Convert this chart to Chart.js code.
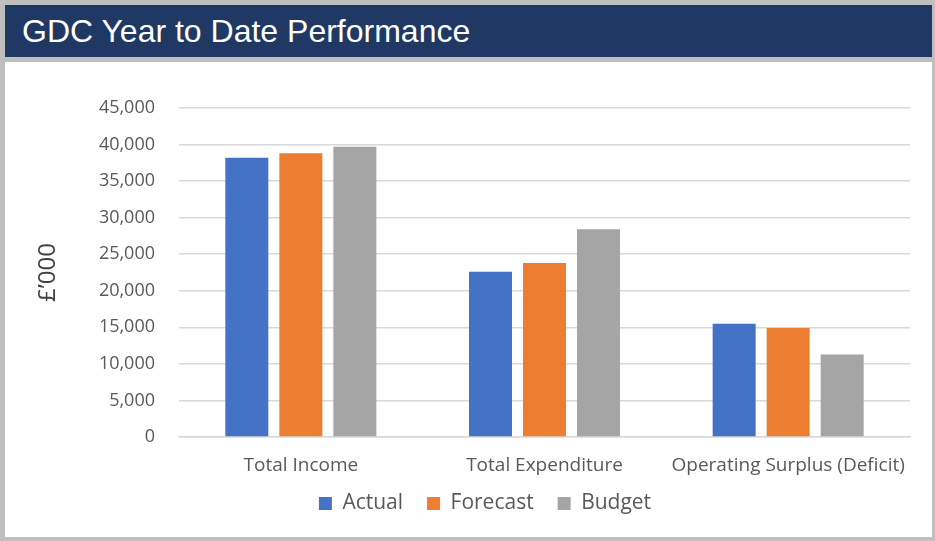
<!DOCTYPE html>
<html>
<head>
<meta charset="utf-8">
<script src="https://cdn.jsdelivr.net/npm/chart.js@4"></script>
<style>
  html, body { margin: 0; padding: 0; }
  body { width: 935px; height: 541px; background: #bfbfbf; position: relative; overflow: hidden; }
  #title-bar {
    position: absolute; left: 5px; top: 5px; width: 927px; height: 52px;
    background: #1f3864; color: #fff;
    font-family: "Liberation Sans", Arial, sans-serif; font-size: 32px;
    line-height: 52px; padding-left: 17px; box-sizing: border-box;
  }
  #panel { position: absolute; left: 5px; top: 62px; width: 927px; height: 475px; background: #fff; }
  #chart-wrap { position: absolute; left: 0; top: 62px; width: 935px; height: 475px; }
</style>
</head>
<body>
<div id="title-bar">GDC Year to Date Performance</div>
<div id="panel"></div>
<div id="chart-wrap"><canvas id="chart"></canvas></div>
<script>
const categories = ['Total Income', 'Total Expenditure', 'Operating Surplus (Deficit)'];
const actual = [38200, 22600, 15500];
const forecast = [38800, 23800, 14900];
const budget = [39700, 28400, 11300];
const yMax = 45000;
const yStep = 5000;

// nudge the legend so it sits where the original has it
const legendShift = {
  id: 'legendShift',
  afterLayout(chart) {
    const lg = chart.legend;
    if (!lg) return;
    lg.left += 30; lg.right += 30;
    lg.top -= 8; lg.bottom -= 8;
  }
};

document.addEventListener('DOMContentLoaded', () => {
  const ctx = document.getElementById('chart').getContext('2d');
  const textColor = '#595959';
  const font = '"Open Sans", "Noto Sans", sans-serif';

  new Chart(ctx, {
    type: 'bar',
    data: {
      labels: categories,
      datasets: [
        { label: 'Actual', data: actual, backgroundColor: '#4472c4' },
        { label: 'Forecast', data: forecast, backgroundColor: '#ed7d31' },
        { label: 'Budget', data: budget, backgroundColor: '#a5a5a5' }
      ]
    },
    plugins: [legendShift],
    options: {
      responsive: true,
      maintainAspectRatio: false,
      animation: false,
      datasets: {
        bar: { categoryPercentage: 0.665, barPercentage: 0.796 }
      },
      layout: { padding: { top: 46, right: 25, left: 0, bottom: 5 } },
      scales: {
        x: {
          grid: { display: false },
          border: { color: '#d9d9d9', width: 1.5 },
          ticks: { color: textColor, font: { family: font, size: 19 }, padding: 9 },
          afterFit: (scale) => { scale.height = 40; }
        },
        y: {
          min: 0,
          max: yMax,
          ticks: {
            stepSize: yStep,
            color: textColor,
            padding: 24,
            font: { family: font, size: 18 },
            callback: (v) => v.toLocaleString('en-GB')
          },
          grid: { color: '#d9d9d9', lineWidth: 1.5, drawTicks: false },
          border: { display: false },
          title: {
            display: true,
            text: '£’000',
            color: '#404040',
            font: { family: font, size: 24 },
            padding: { top: 34, bottom: 0 }
          },
          afterFit: (scale) => { scale.width = 179; }
        }
      },
      plugins: {
        legend: {
          position: 'bottom',
          labels: {
            color: textColor,
            font: { family: font, size: 21 },
            boxWidth: 13,
            boxHeight: 13,
            padding: 24
          }
        },
        tooltip: { enabled: false }
      }
    }
  });
});
</script>
</body>
</html>
